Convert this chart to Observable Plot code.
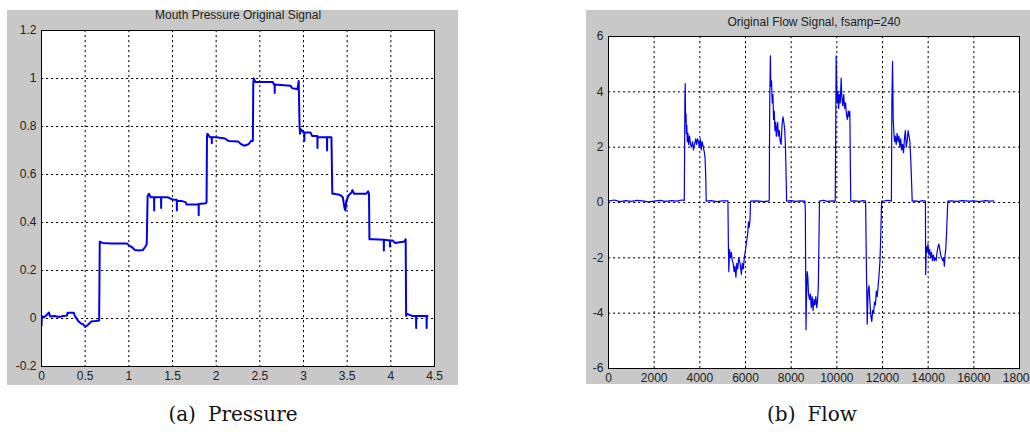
<!DOCTYPE html>
<html>
<head>
<meta charset="utf-8">
<script src="https://cdn.jsdelivr.net/npm/d3@7"></script>
<script src="https://cdn.jsdelivr.net/npm/@observablehq/plot@0.6"></script>
<style>
  html, body { margin: 0; padding: 0; background: #ffffff; width: 1030px; height: 432px; overflow: hidden; }
  .panel { position: absolute; }
  .panel svg { max-width: none !important; }
  .caption { position: absolute; font-family: "DejaVu Serif", "Liberation Serif", serif; font-size: 20px; color: #111; text-align: center; width: 300px; white-space: nowrap; }
  .gap { display: inline-block; width: 12px; }
</style>
</head>
<body>
<div id="pa" class="panel" style="left:7px; top:10px; width:451px;"></div>
<div id="pb" class="panel" style="left:586px; top:10px; width:451px;"></div>
<div class="caption" style="left:83px; top:402px;">(a)<span class="gap"></span>Pressure</div>
<div class="caption" style="left:662px; top:402px;">(b)<span class="gap"></span>Flow</div>
<script>
// ---------- Pressure (a) ----------
const pressureTitle = "Mouth Pressure Original Signal";
const pressureXTicks = [0, 0.5, 1, 1.5, 2, 2.5, 3, 3.5, 4, 4.5];
const pressureYTicks = [-0.2, 0, 0.2, 0.4, 0.6, 0.8, 1, 1.2];
const pressureT = [
  0.000, 0.004, 0.03, 0.06, 0.085, 0.10, 0.15, 0.20, 0.25, 0.29, 0.30, 0.37, 0.38, 0.42, 0.45, 0.48, 0.50, 0.52, 0.55, 0.57, 0.62, 0.66,
  0.667, 0.70, 0.80, 0.90, 0.98, 1.00, 1.04, 1.07, 1.12, 1.16, 1.19, 1.205,
  1.215, 1.23, 1.25, 1.289, 1.29, 1.291, 1.369, 1.37, 1.371, 1.45, 1.50, 1.549, 1.55, 1.551, 1.60, 1.65, 1.66, 1.799, 1.80, 1.801, 1.88, 1.89,
  1.895, 1.90, 1.93, 1.949, 1.95, 1.951, 2.00, 2.10, 2.14, 2.25, 2.28, 2.32, 2.37, 2.40, 2.42,
  2.425, 2.43, 2.45, 2.65, 2.66, 2.669, 2.67, 2.671, 2.85, 2.87, 2.93, 2.945,
  2.955, 2.96, 2.965, 3.00, 3.009, 3.01, 3.011, 3.08, 3.10, 3.159, 3.16, 3.161, 3.20, 3.269, 3.27, 3.271, 3.32,
  3.33, 3.35, 3.42, 3.45, 3.47, 3.48, 3.49, 3.52, 3.55, 3.56, 3.58, 3.72, 3.74, 3.75,
  3.755, 3.80, 3.919, 3.92, 3.921, 3.989, 3.99, 3.991, 4.02, 4.05, 4.10, 4.15, 4.17,
  4.175, 4.18, 4.25, 4.289, 4.29, 4.291, 4.35, 4.409, 4.41, 4.411, 4.42
];
const pressureV = [
  -0.03, 0.01, 0.005, 0.015, 0.025, 0.008, 0.01, 0.006, 0.01, 0.012, 0.024, 0.024, 0.012, -0.01, -0.02, -0.025, -0.035, -0.03, -0.02, -0.012, -0.01, -0.008,
  0.32, 0.315, 0.312, 0.312, 0.312, 0.305, 0.296, 0.285, 0.283, 0.285, 0.30, 0.31,
  0.51, 0.52, 0.505, 0.505, 0.45, 0.505, 0.505, 0.46, 0.505, 0.505, 0.495, 0.495, 0.45, 0.49, 0.49, 0.485, 0.475, 0.475, 0.43, 0.477, 0.48, 0.485,
  0.76, 0.77, 0.755, 0.755, 0.73, 0.755, 0.755, 0.75, 0.74, 0.738, 0.728, 0.72, 0.726, 0.74, 0.74,
  0.98, 1.0, 0.985, 0.985, 0.975, 0.975, 0.94, 0.975, 0.97, 0.96, 0.955, 0.99,
  0.80, 0.77, 0.79, 0.775, 0.775, 0.74, 0.775, 0.775, 0.76, 0.76, 0.71, 0.755, 0.755, 0.755, 0.70, 0.755, 0.755,
  0.52, 0.52, 0.515, 0.505, 0.46, 0.45, 0.49, 0.515, 0.525, 0.535, 0.52, 0.52, 0.53, 0.52,
  0.33, 0.33, 0.328, 0.283, 0.328, 0.325, 0.30, 0.325, 0.325, 0.315, 0.318, 0.32, 0.33,
  0.01, 0.02, 0.01, 0.01, -0.04, 0.01, 0.01, 0.01, -0.04, 0.01, 0.01
];

// ---------- Flow (b) ----------
const flowTitle = "Original Flow Signal, fsamp=240";
const flowXTicks = [0, 2000, 4000, 6000, 8000, 10000, 12000, 14000, 16000, 18000];
const flowYTicks = [-6, -4, -2, 0, 2, 4, 6];
const flowX = [
  0, 250, 500, 750, 1000, 1250, 1500, 1750, 2000, 2250, 2500, 2750, 3000, 3200, 3320,
  3345, 3360, 3375, 3395, 3410, 3430, 3450, 3480, 3510, 3550, 3590, 3630, 3680, 3720, 3770, 3820, 3860, 3900, 3940, 3980, 4020, 4060, 4100, 4150, 4200, 4230, 4260, 4280,
  4500, 4750, 5000, 5230,
  5250, 5270, 5300, 5340, 5380, 5420, 5460, 5500, 5540, 5580, 5620, 5660, 5700, 5740, 5780, 5820, 5860, 5900, 5950, 6000, 6050, 6100, 6130, 6160, 6200, 6220,
  6500, 6800, 7040,
  7060, 7090, 7110, 7140, 7170, 7200, 7230, 7260, 7290, 7320, 7350, 7380, 7410, 7440, 7480, 7520, 7560, 7600, 7640, 7680, 7720, 7750, 7780, 7800,
  8000, 8200, 8400, 8600,
  8620, 8650, 8670, 8700, 8730, 8760, 8800, 8840, 8880, 8920, 8960, 9000, 9040, 9080, 9120, 9160, 9190, 9220, 9240,
  9400, 9600, 9800, 9930,
  9950, 9970, 9990, 10020, 10050, 10080, 10110, 10150, 10190, 10220, 10260, 10300, 10340, 10380, 10420, 10460, 10500, 10540, 10570, 10590, 10610,
  10800, 11000, 11150, 11260,
  11290, 11330, 11370, 11410, 11450, 11490, 11530, 11570, 11610, 11650, 11690, 11730, 11770, 11810, 11850, 11890, 11930, 11960,
  12100, 12250, 12390,
  12410, 12440, 12470, 12500, 12530, 12560, 12600, 12640, 12680, 12720, 12760, 12800, 12840, 12880, 12920, 12960, 13000, 13040, 13080, 13120, 13160, 13200, 13240, 13280, 13300,
  13450, 13600, 13750, 13880,
  13890, 13920, 13950, 13990, 14030, 14070, 14110, 14150, 14190, 14230, 14270, 14310, 14350, 14390, 14430, 14470, 14510, 14550, 14590, 14630, 14670, 14710, 14740, 14770, 14800, 14860,
  15000, 15250, 15500, 15750, 16000, 16250, 16500, 16700, 16880
];
const flowY = [
  0.05, 0.09, 0.03, 0.07, 0.04, 0.08, 0.06, 0.02, 0.05, 0.08, 0.04, 0.07, 0.05, 0.09, 0.08,
  3.7, 4.3, 2.9, 3.2, 2.5, 2.8, 2.2, 2.5, 2.1, 2.4, 2.1, 2.0, 2.2, 1.9, 2.1, 2.3, 2.1, 2.3, 2.2, 2.0, 2.3, 1.9, 2.2, 2.0, 1.8, 1.6, 0.9, 0.05,
  0.07, 0.03, 0.06, 0.06,
  -1.5, -2.5, -1.7, -2.0, -1.8, -2.1, -2.2, -2.5, -2.3, -2.7, -2.2, -2.4, -2.0, -2.1, -2.3, -2.6, -2.2, -2.4, -2.0, -1.7, -1.4, -1.1, -0.7, -0.9, -0.6, 0.05,
  0.06, 0.03, 0.06,
  3.5, 5.3, 4.2, 4.4, 3.6, 3.9, 3.0, 3.3, 2.6, 2.9, 2.4, 2.7, 2.9, 2.4, 2.6, 2.2, 2.1, 2.8, 3.1, 2.9, 2.6, 2.0, 0.9, 0.05,
  0.07, 0.04, 0.06, 0.05,
  -0.3, -4.6, -3.5, -2.5, -2.7, -3.3, -3.5, -3.3, -3.8, -3.4, -3.9, -3.5, -3.7, -3.4, -3.8, -3.5, -3.0, -1.2, 0.05,
  0.08, 0.04, 0.06, 0.05,
  2.5, 5.3, 4.4, 3.6, 4.0, 3.4, 3.9, 3.6, 4.5, 3.8, 3.5, 3.9, 3.4, 3.6, 3.2, 3.0, 3.3, 3.1, 3.3, 1.5, 0.05,
  0.06, 0.04, 0.07, 0.05,
  -2.0, -4.4, -3.2, -3.0, -3.6, -4.1, -4.3, -3.9, -4.0, -3.6, -3.7, -3.2, -3.4, -3.0, -2.6, -2.1, -1.0, 0.05,
  0.06, 0.08, 0.05,
  3.6, 5.1, 3.0, 2.5, 2.2, 2.4, 2.1, 2.5, 2.2, 2.4, 2.0, 2.3, 1.9, 2.1, 1.8, 2.3, 2.6, 2.0, 2.2, 2.6, 2.4, 2.2, 1.5, 0.6, 0.05,
  0.06, 0.03, 0.07, 0.05,
  -2.6, -1.6, -1.8, -1.5, -1.9, -1.7, -2.0, -1.8, -2.1, -1.9, -2.1, -2.0, -2.1, -1.8, -1.6, -1.5, -1.7, -1.9, -2.0, -2.1, -2.0, -2.3, -1.9, -1.7, -1.2, 0.05,
  0.06, 0.04, 0.07, 0.05, 0.06, 0.03, 0.07, 0.05, 0.06
];

const GRAY = "#c8c8c8";
const FONT = "'Liberation Sans', Arial, sans-serif";
const fmt = d => String(d);

function matlabPlot({title, xs, ys, xTicks, yTicks, xDomain, yDomain, width, height, margins, titleDy, lineWidth}) {
  const data = xs.map((x, i) => ({x, y: ys[i]}));
  return Plot.plot({
    width, height,
    marginLeft: margins[0], marginTop: margins[1], marginRight: margins[2], marginBottom: margins[3],
    style: {background: GRAY, fontFamily: FONT, fontSize: "12px", color: "#222", overflow: "visible", maxWidth: "none"},
    x: {domain: xDomain, ticks: xTicks, tickFormat: fmt, label: null},
    y: {domain: yDomain, ticks: yTicks, tickFormat: fmt, label: null},
    marks: [
      Plot.frame({fill: "white", stroke: "none"}),
      Plot.gridX(xTicks, {stroke: "#000", strokeOpacity: 1, strokeDasharray: "2.2,2.8", strokeWidth: 1}),
      Plot.gridY(yTicks, {stroke: "#000", strokeOpacity: 1, strokeDasharray: "2.2,2.8", strokeWidth: 1}),
      Plot.line(data, {x: "x", y: "y", stroke: "#0000ee", strokeWidth: lineWidth, clip: true}),
      Plot.frame({stroke: "#000", strokeWidth: 1}),
      Plot.axisX(xTicks, {tickSize: 0, tickPadding: 5, tickFormat: fmt, fontSize: 12, fill: "#222", label: null}),
      Plot.axisY(yTicks, {tickSize: 0, tickPadding: 5, tickFormat: fmt, fontSize: 12, fill: "#222", label: null}),
      Plot.text([title], {frameAnchor: "top", dy: titleDy, lineAnchor: "middle", fontSize: 12, fill: "#222", text: d => d})
    ]
  });
}

document.getElementById("pa").append(matlabPlot({
  title: pressureTitle, xs: pressureT, ys: pressureV,
  xTicks: pressureXTicks, yTicks: pressureYTicks,
  xDomain: [0, 4.5], yDomain: [-0.2, 1.2],
  width: 451, height: 375, margins: [34, 20, 24, 19], titleDy: -15, lineWidth: 2
}));

document.getElementById("pb").append(matlabPlot({
  title: flowTitle, xs: flowX, ys: flowY,
  xTicks: flowXTicks, yTicks: flowYTicks,
  xDomain: [0, 18000], yDomain: [-6, 6],
  width: 451, height: 374, margins: [22, 26, 18, 16], titleDy: -14, lineWidth: 1.2
}));
</script>
</body>
</html>
